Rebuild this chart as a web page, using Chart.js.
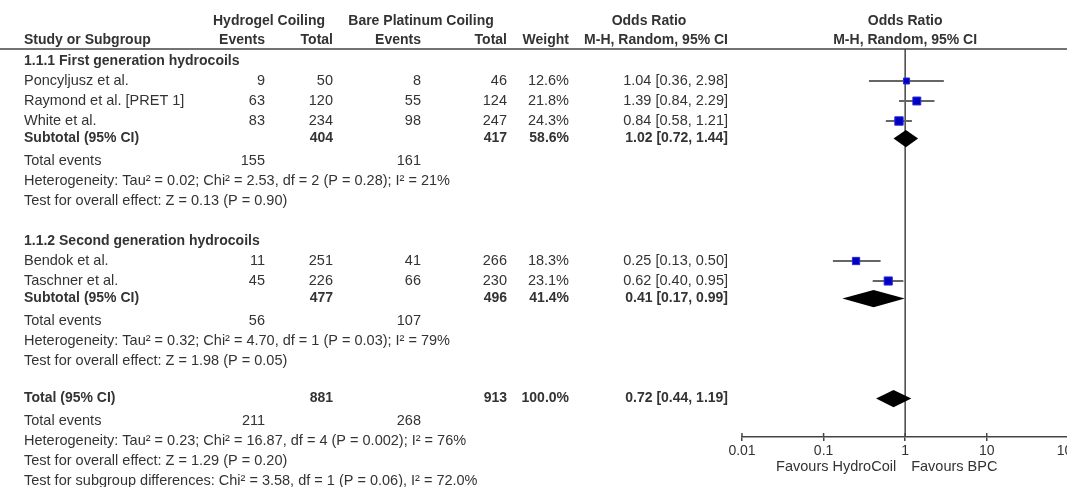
<!DOCTYPE html>
<html>
<head>
<meta charset="utf-8">
<script src="https://cdn.jsdelivr.net/npm/chart.js@4.4.1/dist/chart.umd.min.js"></script>
<style>
  html, body { margin: 0; padding: 0; background: #fff; overflow: hidden; width: 1067px; height: 487px; }
  canvas { display: block; }
</style>
</head>
<body>
<canvas id="forest" width="1082" height="487"></canvas>
<script>
// ---- Study-level data ----
const studies     = ['Poncyljusz et al.', 'Raymond et al. [PRET 1]', 'White et al.', 'Bendok et al.', 'Taschner et al.'];
const hydroEvents = [9, 63, 83, 11, 45];
const hydroTotal  = [50, 120, 234, 251, 226];
const bpcEvents   = [8, 55, 98, 41, 66];
const bpcTotal    = [46, 124, 247, 266, 230];
const weights     = [12.6, 21.8, 24.3, 18.3, 23.1];
const oddsRatio   = [1.04, 1.39, 0.84, 0.25, 0.62];
const ciLow       = [0.36, 0.84, 0.58, 0.13, 0.40];
const ciHigh      = [2.98, 2.29, 1.21, 0.50, 0.95];

// ---- Subgroups ----
const groupTitles    = ['1.1.1 First generation hydrocoils', '1.1.2 Second generation hydrocoils'];
const groupMembers   = [[0, 1, 2], [3, 4]];
const subHydroTotal  = [404, 477];
const subBpcTotal    = [417, 496];
const subWeight      = [58.6, 41.4];
const subOR          = [1.02, 0.41];
const subLow         = [0.72, 0.17];
const subHigh        = [1.44, 0.99];
const subHydroEvents = [155, 56];
const subBpcEvents   = [161, 107];
const subHetero      = ['Tau² = 0.02; Chi² = 2.53, df = 2 (P = 0.28); I² = 21%',
                        'Tau² = 0.32; Chi² = 4.70, df = 1 (P = 0.03); I² = 79%'];
const subEffect      = ['Z = 0.13 (P = 0.90)', 'Z = 1.98 (P = 0.05)'];

// ---- Overall ----
const totHydroTotal  = 881;
const totBpcTotal    = 913;
const totWeight      = 100.0;
const totOR          = 0.72;
const totLow         = 0.44;
const totHigh        = 1.19;
const totHydroEvents = 211;
const totBpcEvents   = 268;
const totHetero      = 'Tau² = 0.23; Chi² = 16.87, df = 4 (P = 0.002); I² = 76%';
const totEffect      = 'Z = 1.29 (P = 0.20)';
const subgroupDiff   = 'Chi² = 3.58, df = 1 (P = 0.06), I² = 72.0%';

// ---- Axis ----
const axisTicks   = [0.01, 0.1, 1, 10, 100];
const favourLeft  = 'Favours HydroCoil';
const favourRight = 'Favours BPC';

// ---- Build the row layout (one row index per line of the table) ----
const fmtCI = (e, l, h) => e.toFixed(2) + ' [' + l.toFixed(2) + ', ' + h.toFixed(2) + ']';
const rows = [];
const studyRow = [];
const diamonds = [];
let r = 0;
groupTitles.forEach((title, g) => {
  rows.push({ row: r++, label: title, bold: true });
  groupMembers[g].forEach(i => {
    studyRow[i] = r;
    rows.push({ row: r++, label: studies[i],
      cells: [hydroEvents[i], hydroTotal[i], bpcEvents[i], bpcTotal[i],
              weights[i].toFixed(1) + '%', fmtCI(oddsRatio[i], ciLow[i], ciHigh[i])] });
  });
  diamonds.push({ row: r - 0.12, est: subOR[g], lo: subLow[g], hi: subHigh[g] });
  rows.push({ row: r++ - 0.12, label: 'Subtotal (95% CI)', bold: true,
    cells: ['', subHydroTotal[g], '', subBpcTotal[g], subWeight[g].toFixed(1) + '%',
            fmtCI(subOR[g], subLow[g], subHigh[g])] });
  rows.push({ row: r++, label: 'Total events', cells: [subHydroEvents[g], '', subBpcEvents[g], '', '', ''] });
  rows.push({ row: r++, label: 'Heterogeneity: ' + subHetero[g] });
  rows.push({ row: r++, label: 'Test for overall effect: ' + subEffect[g] });
  r++; // blank spacer
});
diamonds.push({ row: r - 0.12, est: totOR, lo: totLow, hi: totHigh });
rows.push({ row: r++ - 0.12, label: 'Total (95% CI)', bold: true,
  cells: ['', totHydroTotal, '', totBpcTotal, totWeight.toFixed(1) + '%', fmtCI(totOR, totLow, totHigh)] });
rows.push({ row: r++, label: 'Total events', cells: [totHydroEvents, '', totBpcEvents, '', '', ''] });
rows.push({ row: r++, label: 'Heterogeneity: ' + totHetero });
rows.push({ row: r++, label: 'Test for overall effect: ' + totEffect });
rows.push({ row: r++, label: 'Test for subgroup differences: ' + subgroupDiff });

// ---- Styling / layout constants ----
const FONT = '"Liberation Sans", Arial, sans-serif';
const REG  = '14.5px ' + FONT;
const BOLD = 'bold 14px ' + FONT;
const TEXT = '#333';
const LINE = '#444';
const colLeft  = 24;
const colRight = [265, 333, 421, 507, 569, 728];

const tablePlugin = {
  id: 'forestTable',
  beforeDatasetsDraw(chart) {
    const { ctx, chartArea, scales: { x } } = chart;
    const x1 = x.getPixelForValue(1);
    ctx.save();
    ctx.strokeStyle = LINE;
    ctx.lineWidth = 1.5;
    // line of no effect
    ctx.beginPath();
    ctx.moveTo(x1, chartArea.top);
    ctx.lineTo(x1, chartArea.bottom);
    ctx.stroke();
    // upper half of the axis tick marks
    axisTicks.forEach(v => {
      const px = x.getPixelForValue(v);
      ctx.beginPath();
      ctx.moveTo(px, chartArea.bottom - 4);
      ctx.lineTo(px, chartArea.bottom);
      ctx.stroke();
    });
    ctx.restore();
  },
  afterDatasetsDraw(chart) {
    const { ctx, scales: { x, y } } = chart;
    ctx.save();
    ctx.fillStyle = '#000';
    diamonds.forEach(d => {
      const cy = y.getPixelForValue(d.row);
      const top = y.getPixelForValue(d.row - 0.43);
      const bot = y.getPixelForValue(d.row + 0.43);
      ctx.beginPath();
      ctx.moveTo(x.getPixelForValue(d.lo), cy);
      ctx.lineTo(x.getPixelForValue(d.est), top);
      ctx.lineTo(x.getPixelForValue(d.hi), cy);
      ctx.lineTo(x.getPixelForValue(d.est), bot);
      ctx.closePath();
      ctx.fill();
    });
    ctx.restore();
  },
  afterDraw(chart) {
    const { ctx, chartArea, scales: { x, y } } = chart;
    ctx.save();
    ctx.fillStyle = TEXT;
    ctx.textBaseline = 'middle';

    // Header
    const h1 = y.getPixelForValue(-2);
    const h2 = y.getPixelForValue(-1.05);
    ctx.font = BOLD;
    ctx.textAlign = 'center';
    ctx.fillText('Hydrogel Coiling', 269, h1);
    ctx.fillText('Bare Platinum Coiling', 421, h1);
    ctx.fillText('Odds Ratio', 649, h1);
    ctx.fillText('Odds Ratio', x.getPixelForValue(1), h1);
    ctx.fillText('M-H, Random, 95% CI', x.getPixelForValue(1), h2);
    ctx.textAlign = 'left';
    ctx.fillText('Study or Subgroup', colLeft, h2);
    ctx.textAlign = 'right';
    ['Events', 'Total', 'Events', 'Total', 'Weight', 'M-H, Random, 95% CI'].forEach((t, k) => {
      ctx.fillText(t, colRight[k], h2);
    });

    // Rule under header
    ctx.strokeStyle = LINE;
    ctx.lineWidth = 1.5;
    ctx.beginPath();
    ctx.moveTo(0, chartArea.top);
    ctx.lineTo(chart.width, chartArea.top);
    ctx.stroke();

    // Body rows
    rows.forEach(row => {
      const py = y.getPixelForValue(row.row);
      ctx.font = row.bold ? BOLD : REG;
      ctx.textAlign = 'left';
      ctx.fillText(row.label, colLeft, py);
      if (row.cells) {
        ctx.textAlign = 'right';
        row.cells.forEach((c, k) => {
          if (c !== '') ctx.fillText(String(c), colRight[k], py);
        });
      }
    });

    // Favours labels under the axis
    const x1 = x.getPixelForValue(1);
    const fy = chartArea.bottom + 30;
    ctx.font = REG;
    ctx.textAlign = 'right';
    ctx.fillText(favourLeft, x1 - 9, fy);
    ctx.textAlign = 'left';
    ctx.fillText(favourRight, x1 + 6, fy);
    ctx.restore();
  }
};

const ciDatasets = studies.map((s, i) => ({
  type: 'line',
  label: s + ' CI',
  data: [{ x: ciLow[i], y: studyRow[i] }, { x: ciHigh[i], y: studyRow[i] }],
  borderColor: '#666',
  borderWidth: 2,
  pointRadius: 0,
  fill: false,
  order: 2
}));

const pointDataset = {
  type: 'scatter',
  label: 'Odds ratio',
  data: studies.map((s, i) => ({ x: oddsRatio[i], y: studyRow[i] })),
  pointStyle: 'rect',
  pointRadius: weights.map(w => 1.2 * Math.sqrt(w)),
  backgroundColor: '#0000c4',
  borderColor: '#2a2ad8',
  borderWidth: 1,
  order: 1
};

new Chart(document.getElementById('forest'), {
  type: 'scatter',
  data: { datasets: [...ciDatasets, pointDataset] },
  options: {
    responsive: false,
    animation: false,
    devicePixelRatio: 1,
    layout: { padding: { left: 742, right: 12, top: 49, bottom: 0 } },
    plugins: { legend: { display: false }, tooltip: { enabled: false } },
    scales: {
      x: {
        type: 'logarithmic',
        min: 0.01,
        max: 100,
        afterBuildTicks: s => { s.ticks = axisTicks.map(v => ({ value: v })); },
        afterFit: s => { s.height = 50; },
        ticks: {
          autoSkip: false,
          maxRotation: 0,
          color: TEXT,
          padding: 2,
          font: { family: FONT, size: 14 },
          callback: v => String(v)
        },
        grid: { display: true, drawOnChartArea: false, drawTicks: true, tickLength: 4, color: LINE, lineWidth: 1.5 },
        border: { display: true, color: LINE, width: 1.5 }
      },
      y: {
        type: 'linear',
        display: false,
        reverse: true,
        min: -0.6,
        max: 18.8
      }
    }
  },
  plugins: [tablePlugin]
});
</script>
</body>
</html>
